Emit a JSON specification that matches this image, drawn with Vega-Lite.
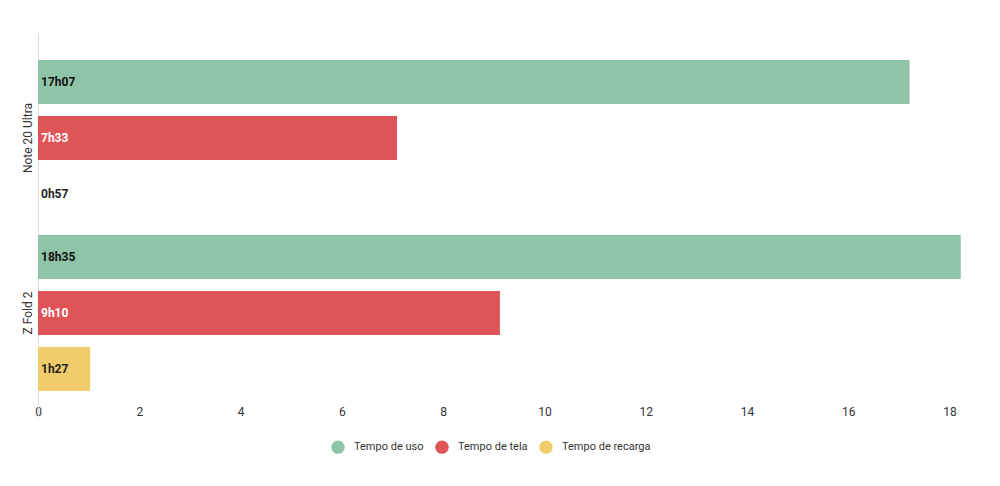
{
  "$schema": "https://vega.github.io/schema/vega-lite/v6.json",
  "autosize": {"type": "none"},
  "width": 942,
  "height": 385,
  "padding": {"left": 38, "top": 33, "right": 20, "bottom": 68},
  "background": "white",
  "config": {
    "font": "Roboto",
    "view": {"stroke": null},
    "axis": {"labelFont": "Roboto", "labelFontSize": 12, "labelColor": "#333333"},
    "legend": {"labelFont": "Roboto", "labelFontSize": 11, "labelColor": "#333333"}
  },
  "data": {
    "values": [
      {"device": "Note 20 Ultra", "series": "Tempo de uso", "hours": 17.21, "label": "17h07"},
      {"device": "Note 20 Ultra", "series": "Tempo de tela", "hours": 7.09, "label": "7h33"},
      {"device": "Note 20 Ultra", "series": "Tempo de recarga", "hours": 0, "label": "0h57"},
      {"device": "Z Fold 2", "series": "Tempo de uso", "hours": 18.22, "label": "18h35"},
      {"device": "Z Fold 2", "series": "Tempo de tela", "hours": 9.12, "label": "9h10"},
      {"device": "Z Fold 2", "series": "Tempo de recarga", "hours": 1.03, "label": "1h27"}
    ]
  },
  "encoding": {
    "y": {
      "field": "device", "type": "nominal", "sort": ["Note 20 Ultra", "Z Fold 2"],
      "scale": {"paddingInner": 0, "paddingOuter": 0.1},
      "axis": {"title": null, "ticks": false, "grid": false, "domainColor": "#dddddd", "labelAngle": -90, "labelAlign": "center", "labelBaseline": "bottom", "labelPadding": 4, "labelFontSize": 12}
    },
    "yOffset": {
      "field": "series", "type": "nominal", "sort": ["Tempo de uso", "Tempo de tela", "Tempo de recarga"],
      "scale": {"paddingInner": 0.214, "paddingOuter": 0.17}
    }
  },
  "layer": [
    {
      "mark": {"type": "bar"},
      "encoding": {
        "x": {
          "field": "hours", "type": "quantitative",
          "scale": {"domain": [0, 18.6], "nice": false, "zero": true},
          "axis": {"title": null, "values": [0, 2, 4, 6, 8, 10, 12, 14, 16, 18], "domain": false, "ticks": false, "grid": false, "labelPadding": -12, "labelFlush": false}
        },
        "color": {
          "field": "series", "type": "nominal",
          "sort": ["Tempo de uso", "Tempo de tela", "Tempo de recarga"],
          "scale": {"domain": ["Tempo de uso", "Tempo de tela", "Tempo de recarga"], "range": ["#8fc4a8", "#df5456", "#f0cd6a"]},
          "legend": {"title": null, "orient": "none", "direction": "horizontal", "legendX": 293, "legendY": 407, "symbolType": "circle", "symbolSize": 180, "symbolStrokeWidth": 0, "symbolOpacity": 1, "labelOffset": 9, "columnPadding": 11, "padding": 0}
        }
      }
    },
    {
      "mark": {"type": "text", "align": "left", "baseline": "middle", "dx": 3, "fontWeight": "bold", "fontSize": 12, "font": "Roboto"},
      "encoding": {
        "x": {"datum": 0, "type": "quantitative"},
        "text": {"field": "label"},
        "color": {
          "field": "series", "type": "nominal",
          "scale": {"domain": ["Tempo de uso", "Tempo de tela", "Tempo de recarga"], "range": ["#111111", "#ffffff", "#222222"]},
          "legend": null
        }
      }
    }
  ],
  "resolve": {"scale": {"color": "independent"}}
}
